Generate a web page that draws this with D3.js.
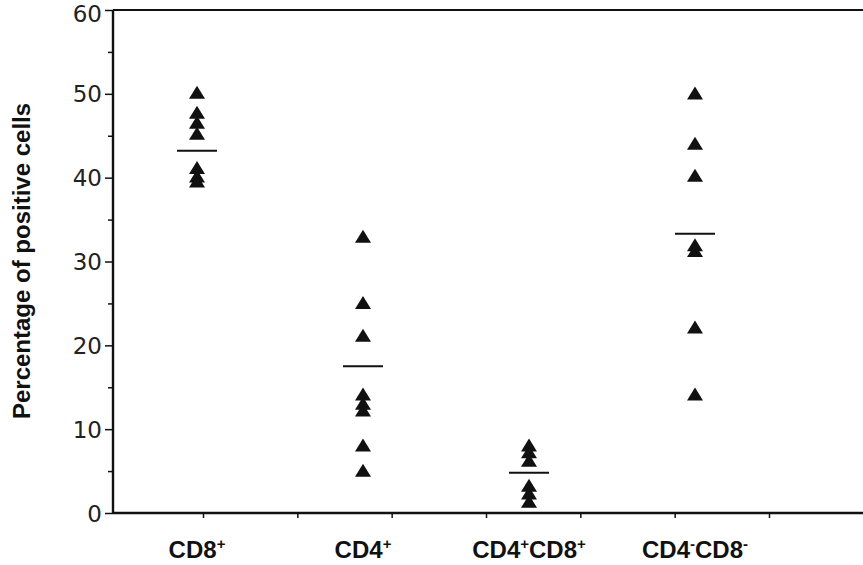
<!DOCTYPE html>
<html>
<head>
<meta charset="utf-8">
<script src="https://cdn.jsdelivr.net/npm/d3@7/dist/d3.min.js"></script>
<style>
  html, body { margin: 0; padding: 0; background: #fff; }
  svg { display: block; }
</style>
</head>
<body>
<svg id="chart" width="863" height="565"></svg>
<script>
// ---- data ----
const categories = ["CD8+", "CD4+", "CD4+CD8+", "CD4-CD8-"];
const cd8Values = [50.2, 47.8, 46.6, 45.3, 41.2, 40.2, 39.6];
const cd4Values = [33.0, 25.1, 21.2, 14.2, 13.1, 12.3, 8.1, 5.1];
const cd4cd8Values = [8.1, 7.3, 6.3, 3.3, 2.4, 1.4];
const doubleNegValues = [50.1, 44.1, 40.3, 32.0, 31.3, 22.2, 14.2];
const meanValues = [43.2, 17.5, 4.8, 33.3];
const yTickValues = [0, 10, 20, 30, 40, 50, 60];
const yMinorTickValues = [5, 15, 25, 35, 45, 55];
const xTickValues = [1, 2, 3, 4, 5, 6, 7];
// label parts: [main, superscript] pairs
const categoryLabels = [
  [["CD8", "+"]],
  [["CD4", "+"]],
  [["CD4", "+"], ["CD8", "+"]],
  [["CD4", "-"], ["CD8", "-"]]
];
const seriesValues = [cd8Values, cd4Values, cd4cd8Values, doubleNegValues];

// ---- layout ----
const svg = d3.select("#chart");
const mLeft = 113, mRight = 863, mTop = 10, mBottom = 513;

const y = d3.scaleLinear().domain([0, 60]).range([mBottom, mTop]);
const x = d3.scalePoint().domain(categories).range([197, 695]);
const xt = d3.scaleLinear().domain([1, 7]).range([203, 769]);

const ink = "#111";

// triangle symbol
const triW = 16, triH = 13;
const triangle = {
  draw(ctx) {
    ctx.moveTo(0, -triH / 2);
    ctx.lineTo(triW / 2, triH / 2);
    ctx.lineTo(-triW / 2, triH / 2);
    ctx.closePath();
  }
};
const sym = d3.symbol().type(triangle);

// frame: top line
svg.append("line")
  .attr("x1", mLeft).attr("x2", mRight).attr("y1", mTop).attr("y2", mTop)
  .attr("stroke", ink).attr("stroke-width", 2);

// y axis
const yAxis = svg.append("g").attr("transform", `translate(${mLeft},0)`)
  .call(d3.axisLeft(y).tickValues(yTickValues).tickSize(8).tickPadding(3).tickFormat(d3.format("d")));
yAxis.select(".domain").attr("stroke", ink).attr("stroke-width", 2.4).attr("d", `M0,${mTop}V${mBottom}`);
yAxis.selectAll(".tick line").attr("stroke", ink).attr("stroke-width", 1.5);
yAxis.selectAll(".tick text")
  .attr("fill", "#222")
  .attr("dy", d => d === 60 ? "0.5em" : "0.35em")
  .style("font-family", "'DejaVu Sans', sans-serif")
  .style("font-size", "23px");

svg.append("g").attr("transform", `translate(${mLeft},0)`)
  .call(d3.axisLeft(y).tickValues(yMinorTickValues).tickSize(5).tickFormat(""))
  .call(g => g.select(".domain").remove())
  .selectAll(".tick line").attr("stroke", ink).attr("stroke-width", 1.5);

// x axis
const xAxis = svg.append("g").attr("transform", `translate(0,${mBottom})`)
  .call(d3.axisBottom(xt).tickValues(xTickValues).tickSize(5).tickFormat(""));
xAxis.select(".domain").attr("stroke", ink).attr("stroke-width", 2.4).attr("d", `M${mLeft},0H${mRight}`);
xAxis.selectAll(".tick line").attr("stroke", ink).attr("stroke-width", 1.5);

// category labels
categoryLabels.forEach((parts, i) => {
  const t = svg.append("text")
    .attr("x", x(categories[i]))
    .attr("y", 558)
    .attr("text-anchor", "middle")
    .attr("fill", ink)
    .style("font-family", "'Liberation Sans', Arial, sans-serif")
    .style("font-weight", "bold")
    .style("font-size", "24px");
  parts.forEach(([main, sup], j) => {
    t.append("tspan").attr("dy", j === 0 ? 0 : 9).text(main);
    t.append("tspan").attr("dy", -9).style("font-size", "15px").text(sup);
  });
});

// y label
svg.append("text")
  .attr("transform", `translate(30,261) rotate(-90)`)
  .attr("text-anchor", "middle")
  .attr("fill", ink)
  .style("font-family", "'Liberation Sans', Arial, sans-serif")
  .style("font-weight", "bold")
  .style("font-size", "24px")
  .text("Percentage of positive cells");

// points
seriesValues.forEach((vals, i) => {
  svg.append("g").selectAll("path")
    .data(vals)
    .join("path")
    .attr("d", sym)
    .attr("transform", d => `translate(${x(categories[i])},${y(d)})`)
    .attr("fill", ink);
});

// mean lines
svg.append("g").selectAll("line")
  .data(meanValues)
  .join("line")
  .attr("x1", (d, i) => x(categories[i]) - 20)
  .attr("x2", (d, i) => x(categories[i]) + 20)
  .attr("y1", d => y(d)).attr("y2", d => y(d))
  .attr("stroke", ink).attr("stroke-width", 2);
</script>
</body>
</html>
